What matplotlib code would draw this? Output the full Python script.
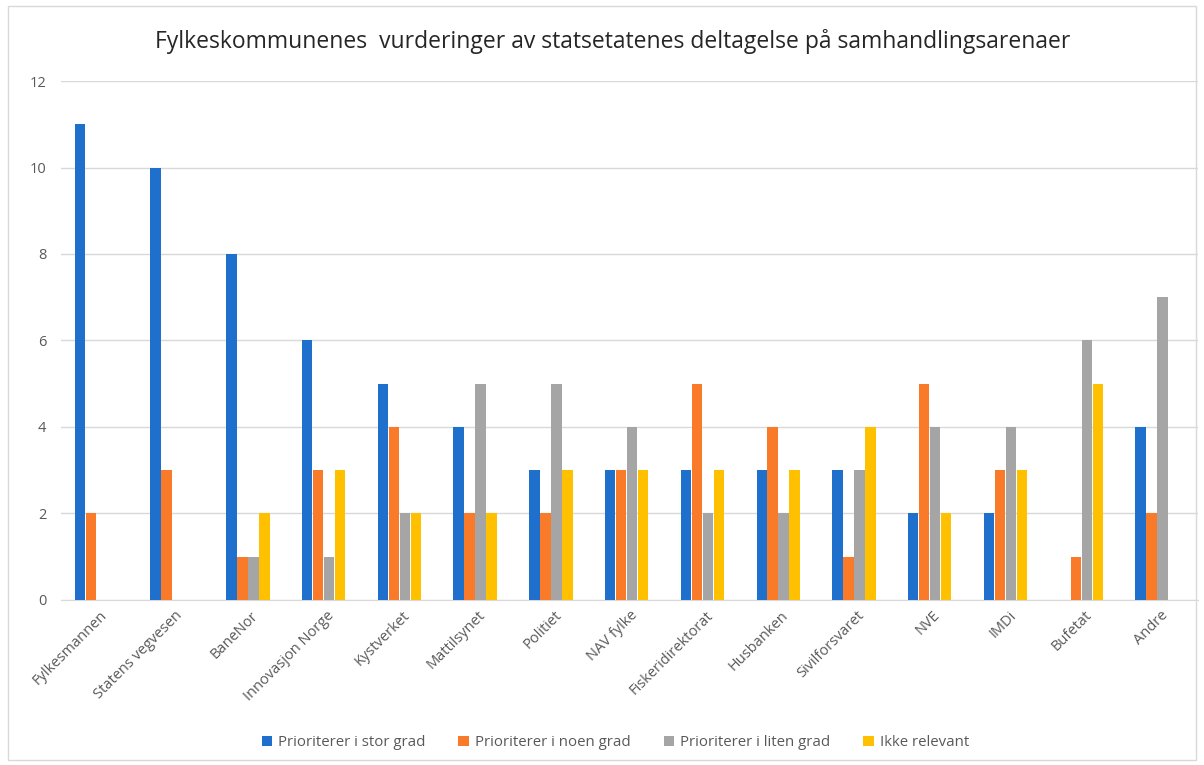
import numpy as np
import matplotlib.pyplot as plt
from matplotlib.patches import Rectangle

plt.rcParams['font.family'] = ['Open Sans', 'DejaVu Sans']

categories = ['Fylkesmannen', 'Statens vegvesen', 'BaneNor', 'Innovasjon Norge', 'Kystverket',
              'Mattilsynet', 'Politiet', 'NAV fylke', 'Fiskeridirektorat', 'Husbanken',
              'Sivilforsvaret', 'NVE', 'IMDi', 'Bufetat', 'Andre']
stor_grad = [11, 10, 8, 6, 5, 4, 3, 3, 3, 3, 3, 2, 2, 0, 4]
noen_grad = [2, 3, 1, 3, 4, 2, 2, 3, 5, 4, 1, 5, 3, 1, 2]
liten_grad = [0, 0, 1, 1, 2, 5, 5, 4, 2, 2, 3, 4, 4, 6, 7]
ikke_relevant = [0, 0, 2, 3, 2, 2, 3, 3, 3, 3, 4, 2, 3, 5, 0]

series = [
    ('Prioriterer i stor grad', stor_grad, '#1F70CC'),
    ('Prioriterer i noen grad', noen_grad, '#F97B2A'),
    ('Prioriterer i liten grad', liten_grad, '#A5A5A5'),
    ('Ikke relevant', ikke_relevant, '#FFC000'),
]

fig = plt.figure(figsize=(12.04, 7.65), dpi=100)
ax = fig.add_axes([0.051, 0.216, 0.944, 0.678])

x = np.arange(len(categories))
w = 0.145
for i, (name, vals, col) in enumerate(series):
    ax.bar(x + (i - 1.5) * w - 0.04, vals, width=w * 0.95, color=col, label=name, zorder=3)

ax.set_xlim(-0.5, len(categories) - 0.5)
ax.set_ylim(0, 12)
ax.set_yticks(range(0, 13, 2))
ax.grid(axis='y', color='#D9D9D9', linewidth=1, zorder=0)
for s in ['top', 'right', 'left']:
    ax.spines[s].set_visible(False)
ax.spines['bottom'].set_color('#D9D9D9')
ax.tick_params(axis='both', length=0, colors='#595959', labelsize=10.5)
ax.tick_params(axis='y', pad=11)
ax.tick_params(axis='x', pad=6)
ax.set_xticks(x)
ax.set_xticklabels(categories, rotation=45, ha='right', rotation_mode='anchor')

fig.suptitle('Fylkeskommunenes  vurderinger av statsetatenes deltagelse på samhandlingsarenaer',
             x=0.509, y=0.962, fontsize=16.5, color='#262626')

fig.legend(loc='center', bbox_to_anchor=(0.511, 0.029), ncol=4, frameon=False,
           fontsize=10.8, handlelength=0.7, handleheight=0.7, columnspacing=2.2,
           handletextpad=0.4, labelcolor='#595959')

fig.patches.append(Rectangle((0.007, 0.007), 0.986, 0.985, transform=fig.transFigure,
                             fill=False, edgecolor='#D9D9D9', linewidth=1))

fig.savefig('out.png', dpi=100)
